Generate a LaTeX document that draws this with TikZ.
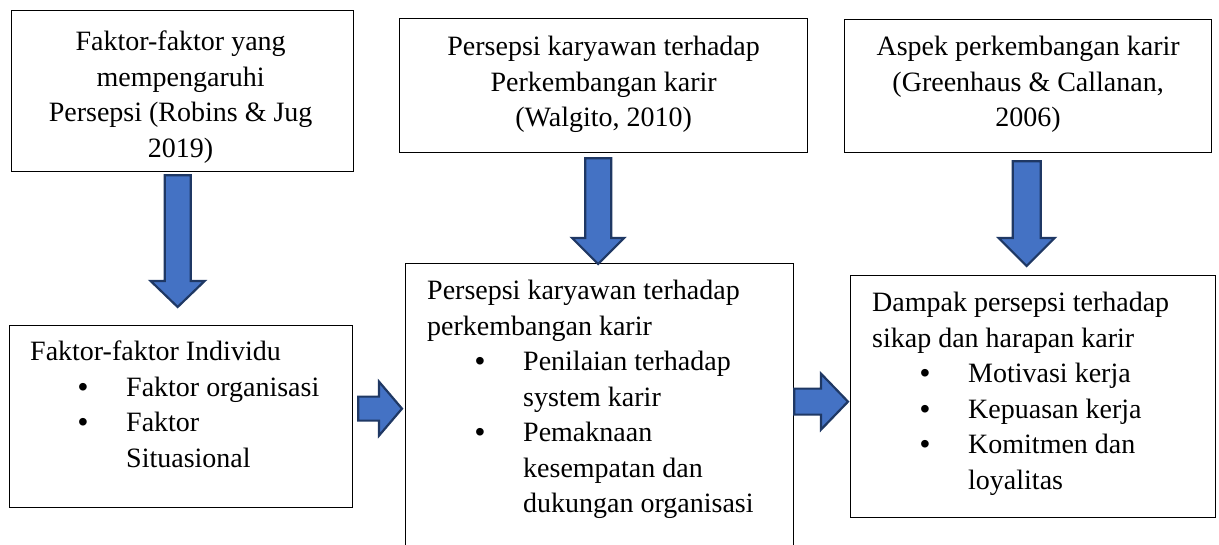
\documentclass[tikz,border=0pt]{standalone}
\usepackage{fontspec}
\setmainfont{Liberation Serif}
\newfontfamily\bulfont{Liberation Sans}
\usepackage{tikz}
\usetikzlibrary{calc}
\definecolor{ablue}{HTML}{4472C4}
\definecolor{aline}{HTML}{1F3864}
\newcommand\itm[1]{\par\hangindent=96pt\hangafter=1\noindent\hspace*{48pt}\makebox[48pt][l]{\bulfont\symbol{"2022}}#1}
\newcommand\blk[5]{%
  \path ($(#2)!#5!(#1)$) coordinate (h);
  \draw[blk] ($(#1)!#3!90:(#2)$) -- ($(h)!#3!90:(#2)$) -- ($(h)!#4!90:(#2)$) -- (#2)
    -- ($(h)!#4!-90:(#2)$) -- ($(h)!#3!-90:(#2)$) -- ($(#1)!#3!-90:(#2)$) -- cycle;}
\tikzstyle{bx}=[draw,line width=1.3pt,anchor=north west,inner sep=0pt]
\tikzstyle{txt}=[inner sep=0pt,font=\fontsize{28}{35.5}\selectfont]
\tikzstyle{blk}=[fill=ablue,draw=aline,line width=2.2pt,line join=miter]
\begin{document}
\begin{tikzpicture}[x=1pt,y=-1pt]
	\useasboundingbox (0,0) rectangle (1219,545);
	\clip (0,0) rectangle (1219,545);
	\node[bx,minimum width=342pt,minimum height=161pt] (fak) at (11,10) {};
	\node[bx,minimum width=408pt,minimum height=134pt] (per) at (399,18) {};
	\node[bx,minimum width=367pt,minimum height=133pt] (asp) at (844,19) {};
	\node[bx,minimum width=343pt,minimum height=182pt] (ind) at (9,325) {};
	\node[bx,minimum width=388pt,minimum height=320pt] (kar) at (405,263) {};
	\node[bx,minimum width=365pt,minimum height=242pt] (dam) at (850,275) {};
	\node[txt,anchor=base] (fakt) at ($(fak.north)+(-2,41)$)
	  {\parbox[t]{330pt}{\centering Faktor-faktor yang\\ mempengaruhi\\ Persepsi (Robins \& Jug\\ 2019)}};
	\node[txt,anchor=base] (pert) at ($(per.north)+(0,38)$)
	  {\parbox[t]{390pt}{\centering Persepsi karyawan terhadap\\ Perkembangan karir\\ (Walgito, 2010)}};
	\node[txt,anchor=base] (aspt) at ($(asp.north)+(0,37)$)
	  {\parbox[t]{350pt}{\centering Aspek perkembangan karir\\ (Greenhaus \& Callanan,\\ 2006)}};
	\node[txt,anchor=base west] (indt) at ($(ind.north west)+(21,36)$)
	  {\parbox[t]{320pt}{\raggedright Faktor-faktor Individu
	   \itm{Faktor organisasi}\itm{Faktor\newline Situasional}}};
	\node[txt,anchor=base west] (kart) at ($(kar.north west)+(22,37)$)
	  {\parbox[t]{366pt}{\raggedright Persepsi karyawan terhadap\\ perkembangan karir
	   \itm{Penilaian terhadap\newline system karir}\itm{Pemaknaan\newline kesempatan dan\newline dukungan organisasi}}};
	\node[txt,anchor=base west] (damt) at ($(dam.north west)+(22,37)$)
	  {\parbox[t]{343pt}{\raggedright Dampak persepsi terhadap\\ sikap dan harapan karir
	   \itm{Motivasi kerja}\itm{Kepuasan kerja}\itm{Komitmen dan\newline loyalitas}}};
	\coordinate (a1) at ($(fak.south)+(-5,3)$);
	\coordinate (b1) at ($(fak.south |- ind.north)+(-5,-18)$);
	\coordinate (a2) at ($(per.south)+(-5.5,5)$);
	\coordinate (b2) at ($(per.south |- kar.north)+(-5.5,1)$);
	\coordinate (a3) at ($(asp.south)+(-1.5,8)$);
	\coordinate (b3) at ($(asp.south |- dam.north)+(-1.5,-9)$);
	\coordinate (a4) at ($(ind.east)+(5,-8)$);
	\coordinate (b4) at ($(kar.west |- a4)+(-3,0)$);
	\coordinate (a5) at ($(kar.east)+(0,-22)$);
	\coordinate (b5) at ($(dam.west |- a5)+(-2,0)$);
	\blk{a1}{b1}{13pt}{27pt}{26pt}
	\blk{a2}{b2}{13pt}{26pt}{26pt}
	\blk{a3}{b3}{14pt}{28pt}{28pt}
	\blk{a4}{b4}{12pt}{27pt}{23pt}
	\blk{a5}{b5}{13pt}{28pt}{27pt}
\end{tikzpicture}
\end{document}
